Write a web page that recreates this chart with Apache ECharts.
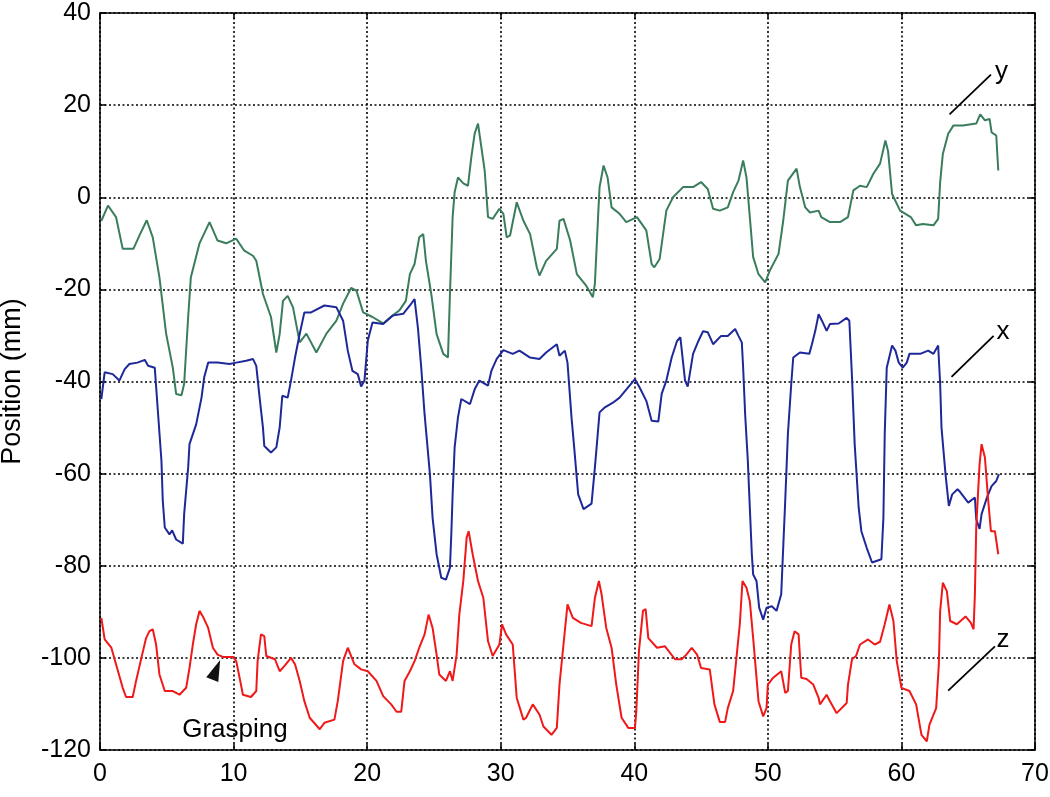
<!DOCTYPE html>
<html>
<head>
<meta charset="utf-8">
<script src="https://cdn.jsdelivr.net/npm/echarts@6/dist/echarts.min.js"></script>
<style>html,body{margin:0;padding:0;background:#fff}#c{width:1050px;height:797px}</style>
</head>
<body>
<div id="c"></div>
<script>
// Time (s) / position (mm) pairs
var yData = [[0.1,-5.1],[0.6,-1.8],[1.2,-4.3],[1.7,-11.2],[2.5,-11.2],[3.0,-8],[3.5,-5],[3.95,-8.7],[4.45,-17.4],[4.95,-29.6],[5.45,-37],[5.7,-42.7],[6.1,-43],[6.3,-40.5],[6.6,-26],[6.8,-17.4],[7.45,-10],[8.2,-5.4],[8.8,-9.4],[9.45,-10],[10.2,-9],[10.8,-11.6],[11.45,-12.7],[11.7,-13.8],[12.2,-21],[12.8,-26],[13.2,-33.7],[13.45,-29.7],[13.7,-22.5],[14.05,-21.4],[14.45,-23.9],[14.95,-31.5],[15.45,-29.6],[16.2,-33.7],[16.95,-29.6],[17.7,-26.8],[18.2,-23.1],[18.8,-19.7],[19.2,-20.3],[19.7,-25],[20.4,-26],[21.2,-27.4],[21.9,-25.7],[22.4,-24.6],[22.9,-22.5],[23.2,-16.7],[23.55,-14.5],[23.9,-8.7],[24.2,-8],[24.4,-13.8],[24.8,-21],[25.2,-29.7],[25.7,-34],[26.05,-34.8],[26.2,-21],[26.4,-4.3],[26.55,1.1],[26.8,4.3],[27.2,3],[27.55,2.5],[27.8,8.7],[28.05,13.8],[28.3,16],[28.55,10.9],[28.8,5.8],[29.05,-4.3],[29.4,-4.7],[29.9,-2.5],[30.2,-3.6],[30.45,-8.7],[30.7,-8.3],[31.2,-1.1],[31.7,-5.1],[32.2,-8],[32.7,-15.2],[32.9,-17],[33.4,-13.8],[34.2,-11.2],[34.4,-5.1],[34.7,-4.7],[35.2,-9.4],[35.7,-16.7],[36.4,-19.2],[36.9,-21.7],[37.05,-18.8],[37.3,-3.6],[37.4,2.2],[37.7,6.9],[38.0,4.3],[38.3,-2.2],[38.9,-3.6],[39.4,-5.4],[40.2,-4.3],[40.9,-7.2],[41.3,-14.5],[41.5,-15.2],[41.9,-13.4],[42.4,-2.9],[42.9,0],[43.65,2.2],[44.4,2.2],[45.0,3.3],[45.5,1.8],[45.9,-2.5],[46.4,-2.9],[47.0,-2.2],[47.4,1.1],[47.8,3.6],[48.15,8],[48.4,4.3],[48.65,-4.3],[48.9,-13],[49.3,-16.7],[49.8,-18.5],[50.15,-15.9],[50.8,-12.3],[51.15,-5.1],[51.5,3.6],[52.15,6.2],[52.4,2.2],[52.8,-2.2],[53.15,-3.3],[53.8,-2.9],[54.0,-4.3],[54.65,-5.4],[55.4,-5.4],[56.0,-4.3],[56.4,1.5],[56.9,2.5],[57.4,2.2],[57.9,5.1],[58.4,7.3],[58.8,12.3],[59.0,10],[59.3,0.7],[59.9,-2.9],[60.7,-4.3],[61.1,-6.1],[61.6,-5.8],[62.4,-6.1],[62.75,-4.7],[62.9,3.3],[63.1,9.4],[63.5,13.8],[63.9,15.6],[64.6,15.6],[65.6,16],[65.9,18],[66.25,16.7],[66.6,17],[66.75,14.1],[67.1,13.4],[67.25,5.8]];

var xData = [[0.1,-43.8],[0.35,-38],[0.95,-38.4],[1.45,-39.8],[1.85,-37.3],[2.2,-36.2],[2.8,-35.9],[3.35,-35.3],[3.6,-36.6],[4.1,-37],[4.35,-47.1],[4.6,-57.2],[4.7,-65.9],[4.85,-71.7],[5.2,-73.2],[5.4,-72.3],[5.7,-74.3],[6.2,-75.2],[6.3,-68.8],[6.6,-58.7],[6.7,-53.6],[7.2,-49.3],[7.6,-43.5],[7.8,-39.1],[8.1,-35.9],[8.8,-35.9],[9.7,-36.2],[10.2,-35.9],[10.95,-35.5],[11.45,-35.1],[11.7,-36.6],[11.95,-43.5],[12.2,-50],[12.3,-54],[12.8,-55.4],[13.2,-54.3],[13.45,-50],[13.65,-43.1],[14.05,-43.5],[14.3,-39.8],[14.6,-34.8],[14.95,-29.7],[15.3,-25],[15.8,-25],[16.8,-23.5],[17.7,-23.9],[18.2,-26.8],[18.55,-33.3],[18.9,-37.7],[19.3,-38.4],[19.55,-41.1],[19.8,-39.8],[20.05,-31.1],[20.4,-27.2],[21.2,-27.5],[21.9,-25.7],[22.7,-25.3],[23.2,-23.5],[23.55,-22.1],[23.8,-28.3],[24.05,-37],[24.3,-47.1],[24.7,-60.1],[24.9,-69.6],[25.2,-77.5],[25.55,-82.6],[25.9,-83],[26.2,-80.4],[26.3,-73.2],[26.4,-64.5],[26.55,-54.3],[26.8,-47.8],[27.05,-43.8],[27.7,-44.9],[28.05,-41.7],[28.4,-39.8],[29.05,-40.9],[29.3,-37.7],[29.7,-35.1],[30.2,-33.2],[30.9,-34],[31.4,-33.3],[32.2,-34.8],[32.9,-35.1],[33.4,-33.7],[34.2,-31.9],[34.4,-34.4],[34.8,-33.3],[35.0,-35.9],[35.3,-47.8],[35.5,-54.3],[35.8,-64.5],[36.2,-67.7],[36.8,-66.5],[37.05,-58.7],[37.2,-53.6],[37.4,-46.7],[37.8,-45.6],[38.4,-44.6],[38.9,-43.5],[40.05,-39.5],[40.4,-41.3],[40.9,-44.2],[41.3,-48.5],[41.8,-48.7],[42.05,-42.7],[42.4,-39.8],[42.8,-34.8],[43.2,-31.2],[43.45,-30.4],[43.8,-39.8],[44.0,-41.1],[44.4,-34],[44.8,-31.2],[45.15,-29.1],[45.5,-29.3],[45.9,-31.9],[46.5,-30.1],[47.0,-30.1],[47.55,-28.6],[47.8,-30.1],[48.05,-31.5],[48.15,-37],[48.3,-47.1],[48.5,-57.2],[48.65,-67.4],[48.8,-77.5],[48.9,-81.9],[49.15,-83.3],[49.35,-89.1],[49.65,-91.7],[49.9,-89.1],[50.3,-88.8],[50.65,-89.8],[51.0,-86.2],[51.3,-65.9],[51.5,-51.4],[51.75,-40.6],[51.9,-34.8],[52.4,-33.7],[53.1,-34],[53.3,-31.9],[53.55,-29],[53.8,-25.4],[54.05,-26.8],[54.4,-29],[54.65,-27.5],[55.3,-27.4],[55.9,-26.2],[56.1,-26.8],[56.3,-39.1],[56.5,-53.6],[56.8,-67.4],[57.0,-72.5],[57.4,-76.1],[57.8,-79.3],[58.5,-78.6],[58.65,-69.6],[58.75,-51.4],[58.9,-37],[59.3,-32.2],[59.55,-33.3],[59.8,-35.9],[60.1,-37],[60.4,-35.9],[60.6,-34],[61.4,-34],[62.0,-33.3],[62.4,-34],[62.75,-32.2],[62.9,-40.6],[63.0,-50],[63.3,-60.1],[63.55,-67],[63.8,-64.5],[64.2,-63.4],[64.4,-64],[65.0,-66.3],[65.5,-65.2],[65.6,-69.9],[65.85,-72],[66.0,-68.8],[66.4,-65.2],[66.75,-62.7],[67.1,-61.6],[67.3,-60.1]];

var zData = [[0.1,-91.3],[0.35,-96],[0.85,-97.8],[1.2,-101.4],[1.7,-106.5],[1.95,-108.5],[2.45,-108.5],[2.7,-105],[3.1,-100],[3.45,-95.7],[3.7,-94.2],[3.95,-93.8],[4.2,-97.1],[4.45,-103.6],[4.85,-107.2],[5.45,-107.2],[5.95,-108],[6.45,-106.5],[6.7,-102.2],[6.95,-97.1],[7.2,-92.7],[7.45,-89.8],[7.7,-91],[8.1,-93.5],[8.45,-97.8],[8.8,-99.3],[9.2,-99.8],[9.95,-99.8],[10.2,-100.7],[10.45,-104.3],[10.7,-108],[11.3,-108.5],[11.7,-107.2],[11.8,-100.7],[12.05,-94.9],[12.3,-95.3],[12.45,-99.6],[13.1,-100.3],[13.45,-102.9],[13.8,-101.8],[14.3,-100],[14.6,-101.4],[14.95,-105],[15.3,-109.4],[15.7,-113],[16.45,-115.5],[16.8,-114.1],[17.55,-113.4],[17.8,-109.4],[18.2,-100.7],[18.55,-97.8],[19.05,-101.4],[19.55,-102.5],[20.05,-102.9],[20.7,-105],[21.2,-108.3],[21.8,-110.1],[22.2,-111.7],[22.55,-111.7],[22.8,-105],[23.2,-102.9],[23.55,-100.7],[23.9,-97.8],[24.3,-94.9],[24.6,-90.6],[24.9,-93.5],[25.2,-99.3],[25.4,-103.6],[25.9,-105],[26.2,-102.9],[26.4,-105],[26.7,-99.3],[26.9,-90.6],[27.2,-83.3],[27.45,-73.9],[27.6,-72.5],[27.9,-77.5],[28.3,-83.3],[28.7,-87],[29.05,-96.4],[29.4,-99.6],[29.9,-97.1],[30.1,-92.7],[30.4,-94.9],[30.9,-97.1],[31.2,-108.7],[31.7,-113.4],[31.9,-113],[32.4,-110.1],[32.9,-112.3],[33.2,-114.9],[33.8,-116.7],[34.2,-115.2],[34.4,-105.8],[34.7,-97.1],[35.0,-88.4],[35.4,-91.3],[36.0,-92.4],[36.8,-93.1],[37.05,-87],[37.35,-83.3],[37.55,-86.2],[37.9,-93.5],[38.3,-97.8],[38.65,-105.8],[39.05,-113],[39.55,-115.2],[40.05,-115.2],[40.15,-111.6],[40.35,-98.5],[40.65,-89.8],[40.85,-89.4],[41.05,-95.7],[41.7,-97.8],[42.3,-97.5],[43.05,-100.3],[43.55,-100.3],[43.9,-99.3],[44.3,-97.8],[44.7,-99.3],[45.0,-102.2],[45.65,-102.5],[46.0,-110.1],[46.4,-113.9],[46.8,-113.9],[47.0,-110.9],[47.4,-107.2],[47.7,-98.5],[47.9,-92.7],[48.1,-83.3],[48.4,-84.8],[48.65,-87.7],[48.9,-95.7],[49.3,-109.4],[49.65,-112.7],[49.9,-110.9],[50.0,-105.8],[50.4,-104.3],[51.0,-102.9],[51.3,-107.6],[51.5,-107.2],[51.75,-97.1],[52.0,-94.2],[52.3,-94.9],[52.5,-104.3],[52.9,-104.6],[53.4,-105.8],[53.8,-108.7],[53.9,-110.1],[54.4,-108],[54.65,-109.4],[55.15,-112],[55.9,-109.8],[56.0,-105.8],[56.3,-100.3],[56.6,-99.6],[56.9,-97.1],[57.5,-96],[58.0,-97.1],[58.4,-96.5],[58.75,-92.7],[59.1,-88.4],[59.4,-92],[59.65,-100.7],[60.0,-106.5],[60.6,-107.2],[61.1,-110.1],[61.5,-116.7],[61.9,-118.1],[62.1,-114.5],[62.6,-110.9],[62.8,-101.4],[62.9,-89.8],[63.1,-83.7],[63.4,-85.5],[63.65,-92],[64.15,-92.7],[64.8,-91],[65.2,-92.4],[65.4,-93.8],[65.5,-86.2],[65.6,-71.7],[65.85,-58],[66.0,-53.6],[66.25,-56.5],[66.5,-65.9],[66.7,-72.5],[67.0,-72.5],[67.25,-77.5]];

// Annotation labels and leader lines (data coordinates)
var labelTexts = ['y', 'x', 'z', 'Grasping'];
var labelPos = [[67.5, 27.2], [67.6, -29.3], [67.6, -96.0], [10.1, -115.6]];
var leaderLines = [
  [[63.6, 18.0], [66.7, 26.6]],
  [[63.75, -39.0], [66.9, -30.1]],
  [[63.5, -107.1], [67.0, -97.5]]
];
var arrowPos = [8.7, -102.6];

var FONT = '"Liberation Sans", Arial, Helvetica, sans-serif';

var chart = echarts.init(document.getElementById('c'), null, {renderer: 'canvas'});

var axisCommon = {
  axisLine: {show: true, onZero: false, lineStyle: {color: '#000', width: 1.5}},
  axisTick: {show: true, inside: true, length: 6, lineStyle: {color: '#000', width: 1.5}}
};

var option = {
  animation: false,
  backgroundColor: '#fff',
  grid: {left: 100, right: 15, top: 13, bottom: 47, show: false, containLabel: false, outerBoundsMode: 'none'},
  xAxis: [
    Object.assign({
      type: 'value', min: 0, max: 70, interval: 10, position: 'bottom',
      axisLabel: {color: '#000', fontSize: 25, fontFamily: FONT, margin: 12},
      splitLine: {show: true, lineStyle: {color: '#000', type: [2, 2.5], width: 1.6}}
    }, axisCommon),
    Object.assign({
      type: 'value', min: 0, max: 70, interval: 10, position: 'top',
      axisLabel: {show: false}, splitLine: {show: false}
    }, axisCommon)
  ],
  yAxis: [
    Object.assign({
      type: 'value', min: -120, max: 40, interval: 20, position: 'left',
      name: 'Position (mm)', nameLocation: 'middle', nameGap: 74, nameRotate: 90,
      nameTextStyle: {color: '#000', fontSize: 27, fontFamily: FONT},
      axisLabel: {color: '#000', fontSize: 25, fontFamily: FONT, margin: 9},
      splitLine: {show: true, lineStyle: {color: '#000', type: [2, 2.5], width: 1.6}}
    }, axisCommon),
    Object.assign({
      type: 'value', min: -120, max: 40, interval: 20, position: 'right',
      axisLabel: {show: false}, splitLine: {show: false}
    }, axisCommon)
  ],
  series: [
    {
      name: 'y', type: 'line', data: yData, showSymbol: false, symbol: 'none',
      lineStyle: {color: '#3a7d5c', width: 2}, z: 3
    },
    {
      name: 'x', type: 'line', data: xData, showSymbol: false, symbol: 'none',
      lineStyle: {color: '#1f2899', width: 2}, z: 3
    },
    {
      name: 'z', type: 'line', data: zData, showSymbol: false, symbol: 'none',
      lineStyle: {color: '#f01818', width: 2}, z: 4
    },
    {
      name: 'annotations', type: 'scatter', z: 5, silent: true,
      symbolSize: 0,
      itemStyle: {opacity: 1, color: '#000'},
      data: labelPos.map(function (p, i) { return {value: p, name: labelTexts[i]}; }),
      label: {
        show: true, position: 'inside', color: '#000', opacity: 1, fontFamily: FONT,
        fontSize: 26,
        formatter: function (p) { return p.name; }
      },
      labelLayout: {hideOverlap: false},
      markLine: {
        silent: true, symbol: ['none', 'none'], label: {show: false},
        lineStyle: {color: '#000', type: 'solid', width: 1.8, opacity: 1},
        data: leaderLines.map(function (l) { return [{coord: l[0]}, {coord: l[1]}]; })
      },
      markPoint: {
        silent: true,
        data: [{coord: arrowPos, symbol: 'triangle', symbolSize: [13, 21], symbolRotate: -22,
                itemStyle: {color: '#111', opacity: 1}, label: {show: false}}]
      }
    }
  ]
};
chart.setOption(option);
</script>
</body>
</html>
